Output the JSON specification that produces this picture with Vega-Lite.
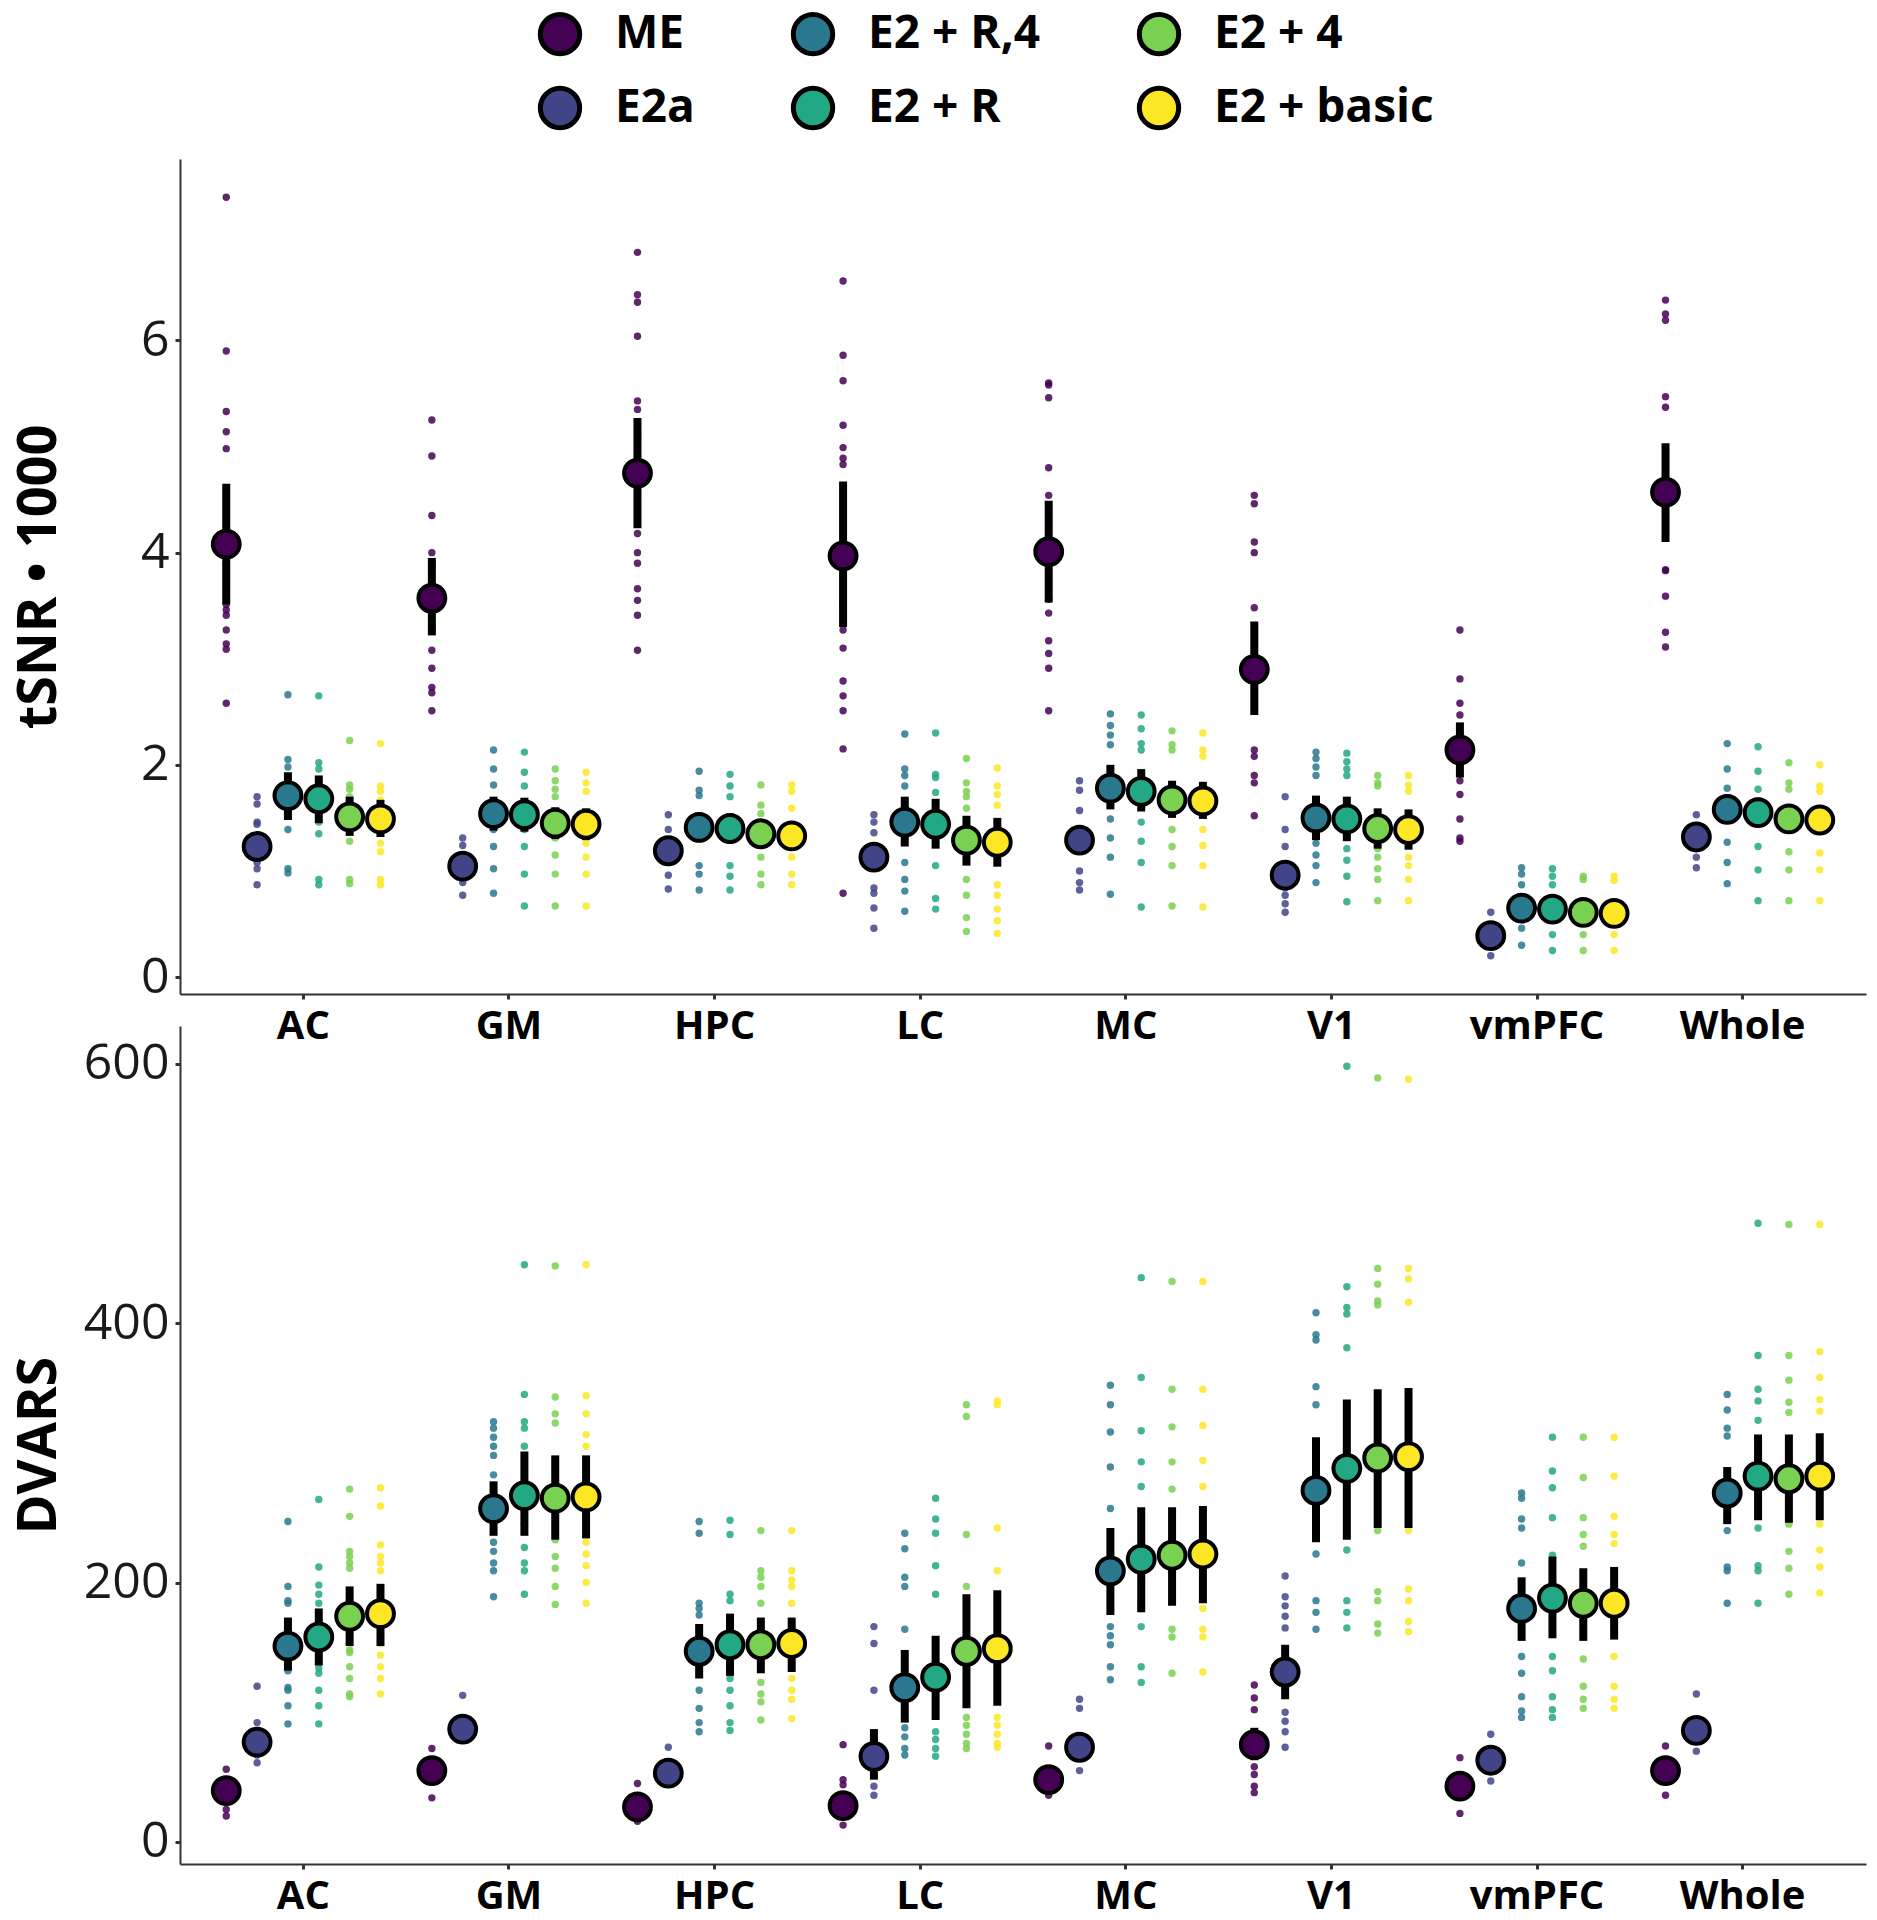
{
"$schema": "https://vega.github.io/schema/vega-lite/v6.json",
"padding": {"left": 12, "top": 11, "right": 8, "bottom": 4},
"datasets": {
"raw": [
{"m":"t","r":"AC","p":"ME","v":7.35},{"m":"t","r":"AC","p":"ME","v":5.90},{"m":"t","r":"AC","p":"ME","v":5.33},{"m":"t","r":"AC","p":"ME","v":5.14},{"m":"t","r":"AC","p":"ME","v":4.98},{"m":"t","r":"AC","p":"ME","v":4.2},{"m":"t","r":"AC","p":"ME","v":3.9},{"m":"t","r":"AC","p":"ME","v":3.51},{"m":"t","r":"AC","p":"ME","v":3.46},{"m":"t","r":"AC","p":"ME","v":3.41},{"m":"t","r":"AC","p":"ME","v":3.27},{"m":"t","r":"AC","p":"ME","v":3.14},{"m":"t","r":"AC","p":"ME","v":3.09},{"m":"t","r":"AC","p":"ME","v":2.58},
{"m":"t","r":"AC","p":"E2a","v":1.70},{"m":"t","r":"AC","p":"E2a","v":1.63},{"m":"t","r":"AC","p":"E2a","v":1.46},{"m":"t","r":"AC","p":"E2a","v":1.44},{"m":"t","r":"AC","p":"E2a","v":1.08},{"m":"t","r":"AC","p":"E2a","v":1.02},{"m":"t","r":"AC","p":"E2a","v":0.87},
{"m":"t","r":"AC","p":"E2 + R,4","v":2.66},{"m":"t","r":"AC","p":"E2 + R,4","v":2.05},{"m":"t","r":"AC","p":"E2 + R,4","v":1.98},{"m":"t","r":"AC","p":"E2 + R,4","v":1.88},{"m":"t","r":"AC","p":"E2 + R,4","v":1.39},{"m":"t","r":"AC","p":"E2 + R,4","v":1.02},{"m":"t","r":"AC","p":"E2 + R,4","v":0.98},
{"m":"t","r":"AC","p":"E2 + R","v":2.65},{"m":"t","r":"AC","p":"E2 + R","v":2.02},{"m":"t","r":"AC","p":"E2 + R","v":1.96},{"m":"t","r":"AC","p":"E2 + R","v":1.85},{"m":"t","r":"AC","p":"E2 + R","v":1.46},{"m":"t","r":"AC","p":"E2 + R","v":1.35},{"m":"t","r":"AC","p":"E2 + R","v":0.92},{"m":"t","r":"AC","p":"E2 + R","v":0.87},
{"m":"t","r":"AC","p":"E2 + 4","v":2.23},{"m":"t","r":"AC","p":"E2 + 4","v":1.81},{"m":"t","r":"AC","p":"E2 + 4","v":1.77},{"m":"t","r":"AC","p":"E2 + 4","v":1.70},{"m":"t","r":"AC","p":"E2 + 4","v":1.39},{"m":"t","r":"AC","p":"E2 + 4","v":1.28},{"m":"t","r":"AC","p":"E2 + 4","v":0.92},{"m":"t","r":"AC","p":"E2 + 4","v":0.88},
{"m":"t","r":"AC","p":"E2 + basic","v":2.20},{"m":"t","r":"AC","p":"E2 + basic","v":1.80},{"m":"t","r":"AC","p":"E2 + basic","v":1.75},{"m":"t","r":"AC","p":"E2 + basic","v":1.67},{"m":"t","r":"AC","p":"E2 + basic","v":1.26},{"m":"t","r":"AC","p":"E2 + basic","v":1.18},{"m":"t","r":"AC","p":"E2 + basic","v":0.92},{"m":"t","r":"AC","p":"E2 + basic","v":0.87},
{"m":"t","r":"GM","p":"ME","v":5.25},{"m":"t","r":"GM","p":"ME","v":4.91},{"m":"t","r":"GM","p":"ME","v":4.35},{"m":"t","r":"GM","p":"ME","v":4.00},{"m":"t","r":"GM","p":"ME","v":3.91},{"m":"t","r":"GM","p":"ME","v":3.30},{"m":"t","r":"GM","p":"ME","v":3.08},{"m":"t","r":"GM","p":"ME","v":2.91},{"m":"t","r":"GM","p":"ME","v":2.73},{"m":"t","r":"GM","p":"ME","v":2.68},{"m":"t","r":"GM","p":"ME","v":2.51},
{"m":"t","r":"GM","p":"E2a","v":1.31},{"m":"t","r":"GM","p":"E2a","v":1.24},{"m":"t","r":"GM","p":"E2a","v":0.89},{"m":"t","r":"GM","p":"E2a","v":0.77},
{"m":"t","r":"GM","p":"E2 + R,4","v":2.14},{"m":"t","r":"GM","p":"E2 + R,4","v":1.96},{"m":"t","r":"GM","p":"E2 + R,4","v":1.81},{"m":"t","r":"GM","p":"E2 + R,4","v":1.39},{"m":"t","r":"GM","p":"E2 + R,4","v":1.23},{"m":"t","r":"GM","p":"E2 + R,4","v":1.02},{"m":"t","r":"GM","p":"E2 + R,4","v":0.79},
{"m":"t","r":"GM","p":"E2 + R","v":2.12},{"m":"t","r":"GM","p":"E2 + R","v":1.93},{"m":"t","r":"GM","p":"E2 + R","v":1.80},{"m":"t","r":"GM","p":"E2 + R","v":1.39},{"m":"t","r":"GM","p":"E2 + R","v":1.23},{"m":"t","r":"GM","p":"E2 + R","v":0.97},{"m":"t","r":"GM","p":"E2 + R","v":0.67},
{"m":"t","r":"GM","p":"E2 + 4","v":1.96},{"m":"t","r":"GM","p":"E2 + 4","v":1.85},{"m":"t","r":"GM","p":"E2 + 4","v":1.77},{"m":"t","r":"GM","p":"E2 + 4","v":1.70},{"m":"t","r":"GM","p":"E2 + 4","v":1.31},{"m":"t","r":"GM","p":"E2 + 4","v":1.15},{"m":"t","r":"GM","p":"E2 + 4","v":0.97},{"m":"t","r":"GM","p":"E2 + 4","v":0.67},
{"m":"t","r":"GM","p":"E2 + basic","v":1.93},{"m":"t","r":"GM","p":"E2 + basic","v":1.83},{"m":"t","r":"GM","p":"E2 + basic","v":1.75},{"m":"t","r":"GM","p":"E2 + basic","v":1.26},{"m":"t","r":"GM","p":"E2 + basic","v":1.13},{"m":"t","r":"GM","p":"E2 + basic","v":0.97},{"m":"t","r":"GM","p":"E2 + basic","v":0.67},
{"m":"t","r":"HPC","p":"ME","v":6.83},{"m":"t","r":"HPC","p":"ME","v":6.43},{"m":"t","r":"HPC","p":"ME","v":6.36},{"m":"t","r":"HPC","p":"ME","v":6.04},{"m":"t","r":"HPC","p":"ME","v":5.43},{"m":"t","r":"HPC","p":"ME","v":5.35},{"m":"t","r":"HPC","p":"ME","v":5.09},{"m":"t","r":"HPC","p":"ME","v":4.18},{"m":"t","r":"HPC","p":"ME","v":4.00},{"m":"t","r":"HPC","p":"ME","v":3.90},{"m":"t","r":"HPC","p":"ME","v":3.66},{"m":"t","r":"HPC","p":"ME","v":3.55},{"m":"t","r":"HPC","p":"ME","v":3.41},{"m":"t","r":"HPC","p":"ME","v":3.08},
{"m":"t","r":"HPC","p":"E2a","v":1.53},{"m":"t","r":"HPC","p":"E2a","v":1.39},{"m":"t","r":"HPC","p":"E2a","v":1.08},{"m":"t","r":"HPC","p":"E2a","v":0.96},{"m":"t","r":"HPC","p":"E2a","v":0.83},
{"m":"t","r":"HPC","p":"E2 + R,4","v":1.94},{"m":"t","r":"HPC","p":"E2 + R,4","v":1.76},{"m":"t","r":"HPC","p":"E2 + R,4","v":1.71},{"m":"t","r":"HPC","p":"E2 + R,4","v":1.05},{"m":"t","r":"HPC","p":"E2 + R,4","v":0.97},{"m":"t","r":"HPC","p":"E2 + R,4","v":0.82},
{"m":"t","r":"HPC","p":"E2 + R","v":1.91},{"m":"t","r":"HPC","p":"E2 + R","v":1.80},{"m":"t","r":"HPC","p":"E2 + R","v":1.70},{"m":"t","r":"HPC","p":"E2 + R","v":1.05},{"m":"t","r":"HPC","p":"E2 + R","v":0.95},{"m":"t","r":"HPC","p":"E2 + R","v":0.82},
{"m":"t","r":"HPC","p":"E2 + 4","v":1.81},{"m":"t","r":"HPC","p":"E2 + 4","v":1.62},{"m":"t","r":"HPC","p":"E2 + 4","v":1.54},{"m":"t","r":"HPC","p":"E2 + 4","v":1.13},{"m":"t","r":"HPC","p":"E2 + 4","v":0.97},{"m":"t","r":"HPC","p":"E2 + 4","v":0.87},
{"m":"t","r":"HPC","p":"E2 + basic","v":1.81},{"m":"t","r":"HPC","p":"E2 + basic","v":1.75},{"m":"t","r":"HPC","p":"E2 + basic","v":1.59},{"m":"t","r":"HPC","p":"E2 + basic","v":1.13},{"m":"t","r":"HPC","p":"E2 + basic","v":0.97},{"m":"t","r":"HPC","p":"E2 + basic","v":0.87},
{"m":"t","r":"LC","p":"ME","v":6.56},{"m":"t","r":"LC","p":"ME","v":5.86},{"m":"t","r":"LC","p":"ME","v":5.62},{"m":"t","r":"LC","p":"ME","v":5.20},{"m":"t","r":"LC","p":"ME","v":4.99},{"m":"t","r":"LC","p":"ME","v":4.89},{"m":"t","r":"LC","p":"ME","v":4.83},{"m":"t","r":"LC","p":"ME","v":3.53},{"m":"t","r":"LC","p":"ME","v":3.27},{"m":"t","r":"LC","p":"ME","v":3.10},{"m":"t","r":"LC","p":"ME","v":2.79},{"m":"t","r":"LC","p":"ME","v":2.65},{"m":"t","r":"LC","p":"ME","v":2.51},{"m":"t","r":"LC","p":"ME","v":2.15},{"m":"t","r":"LC","p":"ME","v":0.79},
{"m":"t","r":"LC","p":"E2a","v":1.53},{"m":"t","r":"LC","p":"E2a","v":1.46},{"m":"t","r":"LC","p":"E2a","v":1.36},{"m":"t","r":"LC","p":"E2a","v":0.84},{"m":"t","r":"LC","p":"E2a","v":0.79},{"m":"t","r":"LC","p":"E2a","v":0.65},{"m":"t","r":"LC","p":"E2a","v":0.46},
{"m":"t","r":"LC","p":"E2 + R,4","v":2.29},{"m":"t","r":"LC","p":"E2 + R,4","v":1.96},{"m":"t","r":"LC","p":"E2 + R,4","v":1.90},{"m":"t","r":"LC","p":"E2 + R,4","v":1.80},{"m":"t","r":"LC","p":"E2 + R,4","v":1.08},{"m":"t","r":"LC","p":"E2 + R,4","v":0.92},{"m":"t","r":"LC","p":"E2 + R,4","v":0.81},{"m":"t","r":"LC","p":"E2 + R,4","v":0.62},
{"m":"t","r":"LC","p":"E2 + R","v":2.30},{"m":"t","r":"LC","p":"E2 + R","v":1.91},{"m":"t","r":"LC","p":"E2 + R","v":1.88},{"m":"t","r":"LC","p":"E2 + R","v":1.74},{"m":"t","r":"LC","p":"E2 + R","v":1.05},{"m":"t","r":"LC","p":"E2 + R","v":0.74},{"m":"t","r":"LC","p":"E2 + R","v":0.64},
{"m":"t","r":"LC","p":"E2 + 4","v":2.06},{"m":"t","r":"LC","p":"E2 + 4","v":1.83},{"m":"t","r":"LC","p":"E2 + 4","v":1.75},{"m":"t","r":"LC","p":"E2 + 4","v":1.70},{"m":"t","r":"LC","p":"E2 + 4","v":1.59},{"m":"t","r":"LC","p":"E2 + 4","v":0.92},{"m":"t","r":"LC","p":"E2 + 4","v":0.77},{"m":"t","r":"LC","p":"E2 + 4","v":0.56},{"m":"t","r":"LC","p":"E2 + 4","v":0.43},
{"m":"t","r":"LC","p":"E2 + basic","v":1.97},{"m":"t","r":"LC","p":"E2 + basic","v":1.80},{"m":"t","r":"LC","p":"E2 + basic","v":1.72},{"m":"t","r":"LC","p":"E2 + basic","v":1.62},{"m":"t","r":"LC","p":"E2 + basic","v":0.87},{"m":"t","r":"LC","p":"E2 + basic","v":0.77},{"m":"t","r":"LC","p":"E2 + basic","v":0.64},{"m":"t","r":"LC","p":"E2 + basic","v":0.53},{"m":"t","r":"LC","p":"E2 + basic","v":0.41},
{"m":"t","r":"MC","p":"ME","v":5.60},{"m":"t","r":"MC","p":"ME","v":5.58},{"m":"t","r":"MC","p":"ME","v":5.46},{"m":"t","r":"MC","p":"ME","v":4.80},{"m":"t","r":"MC","p":"ME","v":4.54},{"m":"t","r":"MC","p":"ME","v":3.56},{"m":"t","r":"MC","p":"ME","v":3.43},{"m":"t","r":"MC","p":"ME","v":3.17},{"m":"t","r":"MC","p":"ME","v":3.05},{"m":"t","r":"MC","p":"ME","v":2.91},{"m":"t","r":"MC","p":"ME","v":2.51},
{"m":"t","r":"MC","p":"E2a","v":1.85},{"m":"t","r":"MC","p":"E2a","v":1.76},{"m":"t","r":"MC","p":"E2a","v":1.57},{"m":"t","r":"MC","p":"E2a","v":1.00},{"m":"t","r":"MC","p":"E2a","v":0.89},{"m":"t","r":"MC","p":"E2a","v":0.82},
{"m":"t","r":"MC","p":"E2 + R,4","v":2.48},{"m":"t","r":"MC","p":"E2 + R,4","v":2.37},{"m":"t","r":"MC","p":"E2 + R,4","v":2.28},{"m":"t","r":"MC","p":"E2 + R,4","v":2.19},{"m":"t","r":"MC","p":"E2 + R,4","v":1.49},{"m":"t","r":"MC","p":"E2 + R,4","v":1.31},{"m":"t","r":"MC","p":"E2 + R,4","v":1.13},{"m":"t","r":"MC","p":"E2 + R,4","v":0.78},
{"m":"t","r":"MC","p":"E2 + R","v":2.47},{"m":"t","r":"MC","p":"E2 + R","v":2.34},{"m":"t","r":"MC","p":"E2 + R","v":2.20},{"m":"t","r":"MC","p":"E2 + R","v":2.14},{"m":"t","r":"MC","p":"E2 + R","v":1.46},{"m":"t","r":"MC","p":"E2 + R","v":1.28},{"m":"t","r":"MC","p":"E2 + R","v":1.08},{"m":"t","r":"MC","p":"E2 + R","v":0.66},
{"m":"t","r":"MC","p":"E2 + 4","v":2.32},{"m":"t","r":"MC","p":"E2 + 4","v":2.19},{"m":"t","r":"MC","p":"E2 + 4","v":2.14},{"m":"t","r":"MC","p":"E2 + 4","v":1.39},{"m":"t","r":"MC","p":"E2 + 4","v":1.23},{"m":"t","r":"MC","p":"E2 + 4","v":1.05},{"m":"t","r":"MC","p":"E2 + 4","v":0.67},
{"m":"t","r":"MC","p":"E2 + basic","v":2.30},{"m":"t","r":"MC","p":"E2 + basic","v":2.14},{"m":"t","r":"MC","p":"E2 + basic","v":2.08},{"m":"t","r":"MC","p":"E2 + basic","v":1.39},{"m":"t","r":"MC","p":"E2 + basic","v":1.24},{"m":"t","r":"MC","p":"E2 + basic","v":1.05},{"m":"t","r":"MC","p":"E2 + basic","v":0.66},
{"m":"t","r":"V1","p":"ME","v":4.54},{"m":"t","r":"V1","p":"ME","v":4.46},{"m":"t","r":"V1","p":"ME","v":4.10},{"m":"t","r":"V1","p":"ME","v":4.00},{"m":"t","r":"V1","p":"ME","v":3.48},{"m":"t","r":"V1","p":"ME","v":2.14},{"m":"t","r":"V1","p":"ME","v":2.08},{"m":"t","r":"V1","p":"ME","v":1.90},{"m":"t","r":"V1","p":"ME","v":1.83},{"m":"t","r":"V1","p":"ME","v":1.52},
{"m":"t","r":"V1","p":"E2a","v":1.70},{"m":"t","r":"V1","p":"E2a","v":1.39},{"m":"t","r":"V1","p":"E2a","v":1.23},{"m":"t","r":"V1","p":"E2a","v":0.84},{"m":"t","r":"V1","p":"E2a","v":0.77},{"m":"t","r":"V1","p":"E2a","v":0.69},{"m":"t","r":"V1","p":"E2a","v":0.61},
{"m":"t","r":"V1","p":"E2 + R,4","v":2.12},{"m":"t","r":"V1","p":"E2 + R,4","v":2.06},{"m":"t","r":"V1","p":"E2 + R,4","v":1.98},{"m":"t","r":"V1","p":"E2 + R,4","v":1.90},{"m":"t","r":"V1","p":"E2 + R,4","v":1.26},{"m":"t","r":"V1","p":"E2 + R,4","v":1.15},{"m":"t","r":"V1","p":"E2 + R,4","v":1.05},{"m":"t","r":"V1","p":"E2 + R,4","v":0.89},
{"m":"t","r":"V1","p":"E2 + R","v":2.11},{"m":"t","r":"V1","p":"E2 + R","v":2.03},{"m":"t","r":"V1","p":"E2 + R","v":1.96},{"m":"t","r":"V1","p":"E2 + R","v":1.90},{"m":"t","r":"V1","p":"E2 + R","v":1.21},{"m":"t","r":"V1","p":"E2 + R","v":1.10},{"m":"t","r":"V1","p":"E2 + R","v":0.95},{"m":"t","r":"V1","p":"E2 + R","v":0.71},
{"m":"t","r":"V1","p":"E2 + 4","v":1.90},{"m":"t","r":"V1","p":"E2 + 4","v":1.83},{"m":"t","r":"V1","p":"E2 + 4","v":1.80},{"m":"t","r":"V1","p":"E2 + 4","v":1.21},{"m":"t","r":"V1","p":"E2 + 4","v":1.13},{"m":"t","r":"V1","p":"E2 + 4","v":1.02},{"m":"t","r":"V1","p":"E2 + 4","v":0.92},{"m":"t","r":"V1","p":"E2 + 4","v":0.72},
{"m":"t","r":"V1","p":"E2 + basic","v":1.90},{"m":"t","r":"V1","p":"E2 + basic","v":1.81},{"m":"t","r":"V1","p":"E2 + basic","v":1.75},{"m":"t","r":"V1","p":"E2 + basic","v":1.13},{"m":"t","r":"V1","p":"E2 + basic","v":1.05},{"m":"t","r":"V1","p":"E2 + basic","v":0.92},{"m":"t","r":"V1","p":"E2 + basic","v":0.72},
{"m":"t","r":"vmPFC","p":"ME","v":3.27},{"m":"t","r":"vmPFC","p":"ME","v":2.81},{"m":"t","r":"vmPFC","p":"ME","v":2.58},{"m":"t","r":"vmPFC","p":"ME","v":2.47},{"m":"t","r":"vmPFC","p":"ME","v":1.85},{"m":"t","r":"vmPFC","p":"ME","v":1.72},{"m":"t","r":"vmPFC","p":"ME","v":1.49},{"m":"t","r":"vmPFC","p":"ME","v":1.31},{"m":"t","r":"vmPFC","p":"ME","v":1.28},
{"m":"t","r":"vmPFC","p":"E2a","v":0.61},{"m":"t","r":"vmPFC","p":"E2a","v":0.20},
{"m":"t","r":"vmPFC","p":"E2 + R,4","v":1.03},{"m":"t","r":"vmPFC","p":"E2 + R,4","v":0.97},{"m":"t","r":"vmPFC","p":"E2 + R,4","v":0.87},{"m":"t","r":"vmPFC","p":"E2 + R,4","v":0.46},{"m":"t","r":"vmPFC","p":"E2 + R,4","v":0.30},
{"m":"t","r":"vmPFC","p":"E2 + R","v":1.02},{"m":"t","r":"vmPFC","p":"E2 + R","v":0.95},{"m":"t","r":"vmPFC","p":"E2 + R","v":0.87},{"m":"t","r":"vmPFC","p":"E2 + R","v":0.40},{"m":"t","r":"vmPFC","p":"E2 + R","v":0.25},
{"m":"t","r":"vmPFC","p":"E2 + 4","v":0.95},{"m":"t","r":"vmPFC","p":"E2 + 4","v":0.92},{"m":"t","r":"vmPFC","p":"E2 + 4","v":0.40},{"m":"t","r":"vmPFC","p":"E2 + 4","v":0.25},
{"m":"t","r":"vmPFC","p":"E2 + basic","v":0.95},{"m":"t","r":"vmPFC","p":"E2 + basic","v":0.91},{"m":"t","r":"vmPFC","p":"E2 + basic","v":0.40},{"m":"t","r":"vmPFC","p":"E2 + basic","v":0.25},
{"m":"t","r":"Whole","p":"ME","v":6.38},{"m":"t","r":"Whole","p":"ME","v":6.25},{"m":"t","r":"Whole","p":"ME","v":6.19},{"m":"t","r":"Whole","p":"ME","v":5.47},{"m":"t","r":"Whole","p":"ME","v":5.37},{"m":"t","r":"Whole","p":"ME","v":3.84},{"m":"t","r":"Whole","p":"ME","v":3.83},{"m":"t","r":"Whole","p":"ME","v":3.59},{"m":"t","r":"Whole","p":"ME","v":3.25},{"m":"t","r":"Whole","p":"ME","v":3.11},
{"m":"t","r":"Whole","p":"E2a","v":1.53},{"m":"t","r":"Whole","p":"E2a","v":1.13},{"m":"t","r":"Whole","p":"E2a","v":1.03},
{"m":"t","r":"Whole","p":"E2 + R,4","v":2.20},{"m":"t","r":"Whole","p":"E2 + R,4","v":1.96},{"m":"t","r":"Whole","p":"E2 + R,4","v":1.78},{"m":"t","r":"Whole","p":"E2 + R,4","v":1.27},{"m":"t","r":"Whole","p":"E2 + R,4","v":1.08},{"m":"t","r":"Whole","p":"E2 + R,4","v":0.88},
{"m":"t","r":"Whole","p":"E2 + R","v":2.17},{"m":"t","r":"Whole","p":"E2 + R","v":1.94},{"m":"t","r":"Whole","p":"E2 + R","v":1.77},{"m":"t","r":"Whole","p":"E2 + R","v":1.23},{"m":"t","r":"Whole","p":"E2 + R","v":1.01},{"m":"t","r":"Whole","p":"E2 + R","v":0.72},
{"m":"t","r":"Whole","p":"E2 + 4","v":2.02},{"m":"t","r":"Whole","p":"E2 + 4","v":1.83},{"m":"t","r":"Whole","p":"E2 + 4","v":1.77},{"m":"t","r":"Whole","p":"E2 + 4","v":1.18},{"m":"t","r":"Whole","p":"E2 + 4","v":1.01},{"m":"t","r":"Whole","p":"E2 + 4","v":0.72},
{"m":"t","r":"Whole","p":"E2 + basic","v":2.00},{"m":"t","r":"Whole","p":"E2 + basic","v":1.80},{"m":"t","r":"Whole","p":"E2 + basic","v":1.75},{"m":"t","r":"Whole","p":"E2 + basic","v":1.17},{"m":"t","r":"Whole","p":"E2 + basic","v":1.01},{"m":"t","r":"Whole","p":"E2 + basic","v":0.72},
{"m":"d","r":"AC","p":"ME","v":56},{"m":"d","r":"AC","p":"ME","v":25},{"m":"d","r":"AC","p":"ME","v":20},
{"m":"d","r":"AC","p":"E2a","v":120},{"m":"d","r":"AC","p":"E2a","v":92},{"m":"d","r":"AC","p":"E2a","v":67},{"m":"d","r":"AC","p":"E2a","v":61},
{"m":"d","r":"AC","p":"E2 + R,4","v":247},{"m":"d","r":"AC","p":"E2 + R,4","v":197},{"m":"d","r":"AC","p":"E2 + R,4","v":186},{"m":"d","r":"AC","p":"E2 + R,4","v":184},{"m":"d","r":"AC","p":"E2 + R,4","v":132},{"m":"d","r":"AC","p":"E2 + R,4","v":119},{"m":"d","r":"AC","p":"E2 + R,4","v":117},{"m":"d","r":"AC","p":"E2 + R,4","v":105},{"m":"d","r":"AC","p":"E2 + R,4","v":91},
{"m":"d","r":"AC","p":"E2 + R","v":264},{"m":"d","r":"AC","p":"E2 + R","v":212},{"m":"d","r":"AC","p":"E2 + R","v":198},{"m":"d","r":"AC","p":"E2 + R","v":191},{"m":"d","r":"AC","p":"E2 + R","v":184},{"m":"d","r":"AC","p":"E2 + R","v":134},{"m":"d","r":"AC","p":"E2 + R","v":130},{"m":"d","r":"AC","p":"E2 + R","v":117},{"m":"d","r":"AC","p":"E2 + R","v":105},{"m":"d","r":"AC","p":"E2 + R","v":91},
{"m":"d","r":"AC","p":"E2 + 4","v":272},{"m":"d","r":"AC","p":"E2 + 4","v":251},{"m":"d","r":"AC","p":"E2 + 4","v":224},{"m":"d","r":"AC","p":"E2 + 4","v":220},{"m":"d","r":"AC","p":"E2 + 4","v":215},{"m":"d","r":"AC","p":"E2 + 4","v":211},{"m":"d","r":"AC","p":"E2 + 4","v":148},{"m":"d","r":"AC","p":"E2 + 4","v":146},{"m":"d","r":"AC","p":"E2 + 4","v":135},{"m":"d","r":"AC","p":"E2 + 4","v":126},{"m":"d","r":"AC","p":"E2 + 4","v":114},{"m":"d","r":"AC","p":"E2 + 4","v":112},
{"m":"d","r":"AC","p":"E2 + basic","v":273},{"m":"d","r":"AC","p":"E2 + basic","v":259},{"m":"d","r":"AC","p":"E2 + basic","v":229},{"m":"d","r":"AC","p":"E2 + basic","v":220},{"m":"d","r":"AC","p":"E2 + basic","v":215},{"m":"d","r":"AC","p":"E2 + basic","v":209},{"m":"d","r":"AC","p":"E2 + basic","v":153},{"m":"d","r":"AC","p":"E2 + basic","v":144},{"m":"d","r":"AC","p":"E2 + basic","v":135},{"m":"d","r":"AC","p":"E2 + basic","v":126},{"m":"d","r":"AC","p":"E2 + basic","v":114},
{"m":"d","r":"GM","p":"ME","v":72},{"m":"d","r":"GM","p":"ME","v":34},
{"m":"d","r":"GM","p":"E2a","v":113},{"m":"d","r":"GM","p":"E2a","v":79},
{"m":"d","r":"GM","p":"E2 + R,4","v":324},{"m":"d","r":"GM","p":"E2 + R,4","v":319},{"m":"d","r":"GM","p":"E2 + R,4","v":312},{"m":"d","r":"GM","p":"E2 + R,4","v":305},{"m":"d","r":"GM","p":"E2 + R,4","v":298},{"m":"d","r":"GM","p":"E2 + R,4","v":283},{"m":"d","r":"GM","p":"E2 + R,4","v":231},{"m":"d","r":"GM","p":"E2 + R,4","v":224},{"m":"d","r":"GM","p":"E2 + R,4","v":215},{"m":"d","r":"GM","p":"E2 + R,4","v":209},{"m":"d","r":"GM","p":"E2 + R,4","v":189},
{"m":"d","r":"GM","p":"E2 + R","v":445},{"m":"d","r":"GM","p":"E2 + R","v":345},{"m":"d","r":"GM","p":"E2 + R","v":324},{"m":"d","r":"GM","p":"E2 + R","v":319},{"m":"d","r":"GM","p":"E2 + R","v":305},{"m":"d","r":"GM","p":"E2 + R","v":245},{"m":"d","r":"GM","p":"E2 + R","v":227},{"m":"d","r":"GM","p":"E2 + R","v":215},{"m":"d","r":"GM","p":"E2 + R","v":209},{"m":"d","r":"GM","p":"E2 + R","v":191},
{"m":"d","r":"GM","p":"E2 + 4","v":444},{"m":"d","r":"GM","p":"E2 + 4","v":343},{"m":"d","r":"GM","p":"E2 + 4","v":330},{"m":"d","r":"GM","p":"E2 + 4","v":323},{"m":"d","r":"GM","p":"E2 + 4","v":292},{"m":"d","r":"GM","p":"E2 + 4","v":233},{"m":"d","r":"GM","p":"E2 + 4","v":220},{"m":"d","r":"GM","p":"E2 + 4","v":211},{"m":"d","r":"GM","p":"E2 + 4","v":197},{"m":"d","r":"GM","p":"E2 + 4","v":183},
{"m":"d","r":"GM","p":"E2 + basic","v":445},{"m":"d","r":"GM","p":"E2 + basic","v":344},{"m":"d","r":"GM","p":"E2 + basic","v":330},{"m":"d","r":"GM","p":"E2 + basic","v":314},{"m":"d","r":"GM","p":"E2 + basic","v":305},{"m":"d","r":"GM","p":"E2 + basic","v":231},{"m":"d","r":"GM","p":"E2 + basic","v":222},{"m":"d","r":"GM","p":"E2 + basic","v":213},{"m":"d","r":"GM","p":"E2 + basic","v":200},{"m":"d","r":"GM","p":"E2 + basic","v":184},
{"m":"d","r":"HPC","p":"ME","v":45},{"m":"d","r":"HPC","p":"ME","v":16},
{"m":"d","r":"HPC","p":"E2a","v":73},
{"m":"d","r":"HPC","p":"E2 + R,4","v":247},{"m":"d","r":"HPC","p":"E2 + R,4","v":238},{"m":"d","r":"HPC","p":"E2 + R,4","v":184},{"m":"d","r":"HPC","p":"E2 + R,4","v":180},{"m":"d","r":"HPC","p":"E2 + R,4","v":175},{"m":"d","r":"HPC","p":"E2 + R,4","v":117},{"m":"d","r":"HPC","p":"E2 + R,4","v":103},{"m":"d","r":"HPC","p":"E2 + R,4","v":92},{"m":"d","r":"HPC","p":"E2 + R,4","v":85},
{"m":"d","r":"HPC","p":"E2 + R","v":248},{"m":"d","r":"HPC","p":"E2 + R","v":237},{"m":"d","r":"HPC","p":"E2 + R","v":191},{"m":"d","r":"HPC","p":"E2 + R","v":186},{"m":"d","r":"HPC","p":"E2 + R","v":126},{"m":"d","r":"HPC","p":"E2 + R","v":117},{"m":"d","r":"HPC","p":"E2 + R","v":105},{"m":"d","r":"HPC","p":"E2 + R","v":92},{"m":"d","r":"HPC","p":"E2 + R","v":86},
{"m":"d","r":"HPC","p":"E2 + 4","v":240},{"m":"d","r":"HPC","p":"E2 + 4","v":209},{"m":"d","r":"HPC","p":"E2 + 4","v":204},{"m":"d","r":"HPC","p":"E2 + 4","v":197},{"m":"d","r":"HPC","p":"E2 + 4","v":184},{"m":"d","r":"HPC","p":"E2 + 4","v":123},{"m":"d","r":"HPC","p":"E2 + 4","v":114},{"m":"d","r":"HPC","p":"E2 + 4","v":108},{"m":"d","r":"HPC","p":"E2 + 4","v":94},
{"m":"d","r":"HPC","p":"E2 + basic","v":240},{"m":"d","r":"HPC","p":"E2 + basic","v":209},{"m":"d","r":"HPC","p":"E2 + basic","v":202},{"m":"d","r":"HPC","p":"E2 + basic","v":197},{"m":"d","r":"HPC","p":"E2 + basic","v":184},{"m":"d","r":"HPC","p":"E2 + basic","v":126},{"m":"d","r":"HPC","p":"E2 + basic","v":117},{"m":"d","r":"HPC","p":"E2 + basic","v":110},{"m":"d","r":"HPC","p":"E2 + basic","v":95},
{"m":"d","r":"LC","p":"ME","v":75},{"m":"d","r":"LC","p":"ME","v":48},{"m":"d","r":"LC","p":"ME","v":44},{"m":"d","r":"LC","p":"ME","v":13},
{"m":"d","r":"LC","p":"E2a","v":166},{"m":"d","r":"LC","p":"E2a","v":153},{"m":"d","r":"LC","p":"E2a","v":117},{"m":"d","r":"LC","p":"E2a","v":43},{"m":"d","r":"LC","p":"E2a","v":36},
{"m":"d","r":"LC","p":"E2 + R,4","v":238},{"m":"d","r":"LC","p":"E2 + R,4","v":226},{"m":"d","r":"LC","p":"E2 + R,4","v":204},{"m":"d","r":"LC","p":"E2 + R,4","v":197},{"m":"d","r":"LC","p":"E2 + R,4","v":164},{"m":"d","r":"LC","p":"E2 + R,4","v":88},{"m":"d","r":"LC","p":"E2 + R,4","v":81},{"m":"d","r":"LC","p":"E2 + R,4","v":72},{"m":"d","r":"LC","p":"E2 + R,4","v":67},
{"m":"d","r":"LC","p":"E2 + R","v":265},{"m":"d","r":"LC","p":"E2 + R","v":249},{"m":"d","r":"LC","p":"E2 + R","v":238},{"m":"d","r":"LC","p":"E2 + R","v":213},{"m":"d","r":"LC","p":"E2 + R","v":191},{"m":"d","r":"LC","p":"E2 + R","v":85},{"m":"d","r":"LC","p":"E2 + R","v":79},{"m":"d","r":"LC","p":"E2 + R","v":72},{"m":"d","r":"LC","p":"E2 + R","v":66},
{"m":"d","r":"LC","p":"E2 + 4","v":337},{"m":"d","r":"LC","p":"E2 + 4","v":328},{"m":"d","r":"LC","p":"E2 + 4","v":237},{"m":"d","r":"LC","p":"E2 + 4","v":197},{"m":"d","r":"LC","p":"E2 + 4","v":96},{"m":"d","r":"LC","p":"E2 + 4","v":90},{"m":"d","r":"LC","p":"E2 + 4","v":83},{"m":"d","r":"LC","p":"E2 + 4","v":76},{"m":"d","r":"LC","p":"E2 + 4","v":72},
{"m":"d","r":"LC","p":"E2 + basic","v":340},{"m":"d","r":"LC","p":"E2 + basic","v":337},{"m":"d","r":"LC","p":"E2 + basic","v":242},{"m":"d","r":"LC","p":"E2 + basic","v":209},{"m":"d","r":"LC","p":"E2 + basic","v":96},{"m":"d","r":"LC","p":"E2 + basic","v":90},{"m":"d","r":"LC","p":"E2 + basic","v":83},{"m":"d","r":"LC","p":"E2 + basic","v":76},{"m":"d","r":"LC","p":"E2 + basic","v":73},
{"m":"d","r":"MC","p":"ME","v":74},{"m":"d","r":"MC","p":"ME","v":36},
{"m":"d","r":"MC","p":"E2a","v":110},{"m":"d","r":"MC","p":"E2a","v":103},{"m":"d","r":"MC","p":"E2a","v":55},
{"m":"d","r":"MC","p":"E2 + R,4","v":352},{"m":"d","r":"MC","p":"E2 + R,4","v":337},{"m":"d","r":"MC","p":"E2 + R,4","v":316},{"m":"d","r":"MC","p":"E2 + R,4","v":289},{"m":"d","r":"MC","p":"E2 + R,4","v":257},{"m":"d","r":"MC","p":"E2 + R,4","v":166},{"m":"d","r":"MC","p":"E2 + R,4","v":159},{"m":"d","r":"MC","p":"E2 + R,4","v":152},{"m":"d","r":"MC","p":"E2 + R,4","v":135},{"m":"d","r":"MC","p":"E2 + R,4","v":125},
{"m":"d","r":"MC","p":"E2 + R","v":435},{"m":"d","r":"MC","p":"E2 + R","v":358},{"m":"d","r":"MC","p":"E2 + R","v":317},{"m":"d","r":"MC","p":"E2 + R","v":293},{"m":"d","r":"MC","p":"E2 + R","v":274},{"m":"d","r":"MC","p":"E2 + R","v":180},{"m":"d","r":"MC","p":"E2 + R","v":166},{"m":"d","r":"MC","p":"E2 + R","v":135},{"m":"d","r":"MC","p":"E2 + R","v":123},
{"m":"d","r":"MC","p":"E2 + 4","v":432},{"m":"d","r":"MC","p":"E2 + 4","v":349},{"m":"d","r":"MC","p":"E2 + 4","v":320},{"m":"d","r":"MC","p":"E2 + 4","v":293},{"m":"d","r":"MC","p":"E2 + 4","v":272},{"m":"d","r":"MC","p":"E2 + 4","v":164},{"m":"d","r":"MC","p":"E2 + 4","v":158},{"m":"d","r":"MC","p":"E2 + 4","v":130},
{"m":"d","r":"MC","p":"E2 + basic","v":432},{"m":"d","r":"MC","p":"E2 + basic","v":349},{"m":"d","r":"MC","p":"E2 + basic","v":321},{"m":"d","r":"MC","p":"E2 + basic","v":294},{"m":"d","r":"MC","p":"E2 + basic","v":274},{"m":"d","r":"MC","p":"E2 + basic","v":180},{"m":"d","r":"MC","p":"E2 + basic","v":164},{"m":"d","r":"MC","p":"E2 + basic","v":158},{"m":"d","r":"MC","p":"E2 + basic","v":131},
{"m":"d","r":"V1","p":"ME","v":121},{"m":"d","r":"V1","p":"ME","v":111},{"m":"d","r":"V1","p":"ME","v":102},{"m":"d","r":"V1","p":"ME","v":58},{"m":"d","r":"V1","p":"ME","v":52},{"m":"d","r":"V1","p":"ME","v":43},{"m":"d","r":"V1","p":"ME","v":38},
{"m":"d","r":"V1","p":"E2a","v":205},{"m":"d","r":"V1","p":"E2a","v":189},{"m":"d","r":"V1","p":"E2a","v":182},{"m":"d","r":"V1","p":"E2a","v":174},{"m":"d","r":"V1","p":"E2a","v":165},{"m":"d","r":"V1","p":"E2a","v":100},{"m":"d","r":"V1","p":"E2a","v":93},{"m":"d","r":"V1","p":"E2a","v":85},{"m":"d","r":"V1","p":"E2a","v":73},
{"m":"d","r":"V1","p":"E2 + R,4","v":408},{"m":"d","r":"V1","p":"E2 + R,4","v":391},{"m":"d","r":"V1","p":"E2 + R,4","v":387},{"m":"d","r":"V1","p":"E2 + R,4","v":351},{"m":"d","r":"V1","p":"E2 + R,4","v":337},{"m":"d","r":"V1","p":"E2 + R,4","v":222},{"m":"d","r":"V1","p":"E2 + R,4","v":186},{"m":"d","r":"V1","p":"E2 + R,4","v":177},{"m":"d","r":"V1","p":"E2 + R,4","v":164},
{"m":"d","r":"V1","p":"E2 + R","v":598},{"m":"d","r":"V1","p":"E2 + R","v":428},{"m":"d","r":"V1","p":"E2 + R","v":412},{"m":"d","r":"V1","p":"E2 + R","v":407},{"m":"d","r":"V1","p":"E2 + R","v":381},{"m":"d","r":"V1","p":"E2 + R","v":225},{"m":"d","r":"V1","p":"E2 + R","v":186},{"m":"d","r":"V1","p":"E2 + R","v":177},{"m":"d","r":"V1","p":"E2 + R","v":165},
{"m":"d","r":"V1","p":"E2 + 4","v":589},{"m":"d","r":"V1","p":"E2 + 4","v":442},{"m":"d","r":"V1","p":"E2 + 4","v":430},{"m":"d","r":"V1","p":"E2 + 4","v":417},{"m":"d","r":"V1","p":"E2 + 4","v":414},{"m":"d","r":"V1","p":"E2 + 4","v":240},{"m":"d","r":"V1","p":"E2 + 4","v":193},{"m":"d","r":"V1","p":"E2 + 4","v":186},{"m":"d","r":"V1","p":"E2 + 4","v":168},{"m":"d","r":"V1","p":"E2 + 4","v":161},
{"m":"d","r":"V1","p":"E2 + basic","v":588},{"m":"d","r":"V1","p":"E2 + basic","v":442},{"m":"d","r":"V1","p":"E2 + basic","v":434},{"m":"d","r":"V1","p":"E2 + basic","v":416},{"m":"d","r":"V1","p":"E2 + basic","v":240},{"m":"d","r":"V1","p":"E2 + basic","v":195},{"m":"d","r":"V1","p":"E2 + basic","v":186},{"m":"d","r":"V1","p":"E2 + basic","v":170},{"m":"d","r":"V1","p":"E2 + basic","v":162},
{"m":"d","r":"vmPFC","p":"ME","v":65},{"m":"d","r":"vmPFC","p":"ME","v":22},
{"m":"d","r":"vmPFC","p":"E2a","v":83},{"m":"d","r":"vmPFC","p":"E2a","v":47},
{"m":"d","r":"vmPFC","p":"E2 + R,4","v":269},{"m":"d","r":"vmPFC","p":"E2 + R,4","v":265},{"m":"d","r":"vmPFC","p":"E2 + R,4","v":249},{"m":"d","r":"vmPFC","p":"E2 + R,4","v":242},{"m":"d","r":"vmPFC","p":"E2 + R,4","v":215},{"m":"d","r":"vmPFC","p":"E2 + R,4","v":143},{"m":"d","r":"vmPFC","p":"E2 + R,4","v":130},{"m":"d","r":"vmPFC","p":"E2 + R,4","v":112},{"m":"d","r":"vmPFC","p":"E2 + R,4","v":101},{"m":"d","r":"vmPFC","p":"E2 + R,4","v":96},
{"m":"d","r":"vmPFC","p":"E2 + R","v":312},{"m":"d","r":"vmPFC","p":"E2 + R","v":286},{"m":"d","r":"vmPFC","p":"E2 + R","v":273},{"m":"d","r":"vmPFC","p":"E2 + R","v":250},{"m":"d","r":"vmPFC","p":"E2 + R","v":221},{"m":"d","r":"vmPFC","p":"E2 + R","v":143},{"m":"d","r":"vmPFC","p":"E2 + R","v":132},{"m":"d","r":"vmPFC","p":"E2 + R","v":112},{"m":"d","r":"vmPFC","p":"E2 + R","v":102},{"m":"d","r":"vmPFC","p":"E2 + R","v":96},
{"m":"d","r":"vmPFC","p":"E2 + 4","v":312},{"m":"d","r":"vmPFC","p":"E2 + 4","v":281},{"m":"d","r":"vmPFC","p":"E2 + 4","v":250},{"m":"d","r":"vmPFC","p":"E2 + 4","v":237},{"m":"d","r":"vmPFC","p":"E2 + 4","v":228},{"m":"d","r":"vmPFC","p":"E2 + 4","v":141},{"m":"d","r":"vmPFC","p":"E2 + 4","v":120},{"m":"d","r":"vmPFC","p":"E2 + 4","v":110},{"m":"d","r":"vmPFC","p":"E2 + 4","v":103},
{"m":"d","r":"vmPFC","p":"E2 + basic","v":312},{"m":"d","r":"vmPFC","p":"E2 + basic","v":282},{"m":"d","r":"vmPFC","p":"E2 + basic","v":251},{"m":"d","r":"vmPFC","p":"E2 + basic","v":237},{"m":"d","r":"vmPFC","p":"E2 + basic","v":230},{"m":"d","r":"vmPFC","p":"E2 + basic","v":143},{"m":"d","r":"vmPFC","p":"E2 + basic","v":120},{"m":"d","r":"vmPFC","p":"E2 + basic","v":110},{"m":"d","r":"vmPFC","p":"E2 + basic","v":103},
{"m":"d","r":"Whole","p":"ME","v":74},{"m":"d","r":"Whole","p":"ME","v":36},
{"m":"d","r":"Whole","p":"E2a","v":114},{"m":"d","r":"Whole","p":"E2a","v":70},
{"m":"d","r":"Whole","p":"E2 + R,4","v":345},{"m":"d","r":"Whole","p":"E2 + R,4","v":333},{"m":"d","r":"Whole","p":"E2 + R,4","v":319},{"m":"d","r":"Whole","p":"E2 + R,4","v":313},{"m":"d","r":"Whole","p":"E2 + R,4","v":240},{"m":"d","r":"Whole","p":"E2 + R,4","v":212},{"m":"d","r":"Whole","p":"E2 + R,4","v":209},{"m":"d","r":"Whole","p":"E2 + R,4","v":184},
{"m":"d","r":"Whole","p":"E2 + R","v":477},{"m":"d","r":"Whole","p":"E2 + R","v":375},{"m":"d","r":"Whole","p":"E2 + R","v":349},{"m":"d","r":"Whole","p":"E2 + R","v":340},{"m":"d","r":"Whole","p":"E2 + R","v":325},{"m":"d","r":"Whole","p":"E2 + R","v":242},{"m":"d","r":"Whole","p":"E2 + R","v":213},{"m":"d","r":"Whole","p":"E2 + R","v":209},{"m":"d","r":"Whole","p":"E2 + R","v":184},
{"m":"d","r":"Whole","p":"E2 + 4","v":476},{"m":"d","r":"Whole","p":"E2 + 4","v":375},{"m":"d","r":"Whole","p":"E2 + 4","v":356},{"m":"d","r":"Whole","p":"E2 + 4","v":339},{"m":"d","r":"Whole","p":"E2 + 4","v":331},{"m":"d","r":"Whole","p":"E2 + 4","v":245},{"m":"d","r":"Whole","p":"E2 + 4","v":224},{"m":"d","r":"Whole","p":"E2 + 4","v":211},{"m":"d","r":"Whole","p":"E2 + 4","v":191},
{"m":"d","r":"Whole","p":"E2 + basic","v":476},{"m":"d","r":"Whole","p":"E2 + basic","v":378},{"m":"d","r":"Whole","p":"E2 + basic","v":358},{"m":"d","r":"Whole","p":"E2 + basic","v":341},{"m":"d","r":"Whole","p":"E2 + basic","v":332},{"m":"d","r":"Whole","p":"E2 + basic","v":245},{"m":"d","r":"Whole","p":"E2 + basic","v":225},{"m":"d","r":"Whole","p":"E2 + basic","v":212},{"m":"d","r":"Whole","p":"E2 + basic","v":192}
],
"sum": [
{"m":"t","r":"AC","p":"ME","mean":4.08,"lo":3.51,"hi":4.65},{"m":"t","r":"AC","p":"E2a","mean":1.23,"lo":1.15,"hi":1.31},{"m":"t","r":"AC","p":"E2 + R,4","mean":1.71,"lo":1.48,"hi":1.93},{"m":"t","r":"AC","p":"E2 + R","mean":1.68,"lo":1.45,"hi":1.90},{"m":"t","r":"AC","p":"E2 + 4","mean":1.51,"lo":1.33,"hi":1.70},{"m":"t","r":"AC","p":"E2 + basic","mean":1.49,"lo":1.32,"hi":1.67},
{"m":"t","r":"GM","p":"ME","mean":3.57,"lo":3.22,"hi":3.95},{"m":"t","r":"GM","p":"E2a","mean":1.045,"lo":0.97,"hi":1.12},{"m":"t","r":"GM","p":"E2 + R,4","mean":1.54,"lo":1.38,"hi":1.70},{"m":"t","r":"GM","p":"E2 + R","mean":1.53,"lo":1.37,"hi":1.69},{"m":"t","r":"GM","p":"E2 + 4","mean":1.45,"lo":1.30,"hi":1.60},{"m":"t","r":"GM","p":"E2 + basic","mean":1.44,"lo":1.29,"hi":1.59},
{"m":"t","r":"HPC","p":"ME","mean":4.75,"lo":4.23,"hi":5.27},{"m":"t","r":"HPC","p":"E2a","mean":1.19,"lo":1.10,"hi":1.28},{"m":"t","r":"HPC","p":"E2 + R,4","mean":1.41,"lo":1.27,"hi":1.55},{"m":"t","r":"HPC","p":"E2 + R","mean":1.40,"lo":1.26,"hi":1.54},{"m":"t","r":"HPC","p":"E2 + 4","mean":1.35,"lo":1.22,"hi":1.48},{"m":"t","r":"HPC","p":"E2 + basic","mean":1.33,"lo":1.20,"hi":1.46},
{"m":"t","r":"LC","p":"ME","mean":3.97,"lo":3.30,"hi":4.67},{"m":"t","r":"LC","p":"E2a","mean":1.13,"lo":1.02,"hi":1.24},{"m":"t","r":"LC","p":"E2 + R,4","mean":1.46,"lo":1.23,"hi":1.70},{"m":"t","r":"LC","p":"E2 + R","mean":1.44,"lo":1.21,"hi":1.68},{"m":"t","r":"LC","p":"E2 + 4","mean":1.29,"lo":1.05,"hi":1.52},{"m":"t","r":"LC","p":"E2 + basic","mean":1.27,"lo":1.04,"hi":1.50},
{"m":"t","r":"MC","p":"ME","mean":4.01,"lo":3.53,"hi":4.49},{"m":"t","r":"MC","p":"E2a","mean":1.29,"lo":1.18,"hi":1.40},{"m":"t","r":"MC","p":"E2 + R,4","mean":1.78,"lo":1.58,"hi":2.00},{"m":"t","r":"MC","p":"E2 + R","mean":1.75,"lo":1.56,"hi":1.96},{"m":"t","r":"MC","p":"E2 + 4","mean":1.67,"lo":1.50,"hi":1.85},{"m":"t","r":"MC","p":"E2 + basic","mean":1.66,"lo":1.49,"hi":1.84},
{"m":"t","r":"V1","p":"ME","mean":2.90,"lo":2.47,"hi":3.35},{"m":"t","r":"V1","p":"E2a","mean":0.96,"lo":0.88,"hi":1.05},{"m":"t","r":"V1","p":"E2 + R,4","mean":1.50,"lo":1.29,"hi":1.71},{"m":"t","r":"V1","p":"E2 + R","mean":1.49,"lo":1.28,"hi":1.70},{"m":"t","r":"V1","p":"E2 + 4","mean":1.40,"lo":1.21,"hi":1.59},{"m":"t","r":"V1","p":"E2 + basic","mean":1.39,"lo":1.20,"hi":1.58},
{"m":"t","r":"vmPFC","p":"ME","mean":2.14,"lo":1.88,"hi":2.40},{"m":"t","r":"vmPFC","p":"E2a","mean":0.39,"lo":0.33,"hi":0.45},{"m":"t","r":"vmPFC","p":"E2 + R,4","mean":0.65,"lo":0.56,"hi":0.75},{"m":"t","r":"vmPFC","p":"E2 + R","mean":0.64,"lo":0.55,"hi":0.74},{"m":"t","r":"vmPFC","p":"E2 + 4","mean":0.61,"lo":0.53,"hi":0.70},{"m":"t","r":"vmPFC","p":"E2 + basic","mean":0.60,"lo":0.52,"hi":0.69},
{"m":"t","r":"Whole","p":"ME","mean":4.57,"lo":4.10,"hi":5.03},{"m":"t","r":"Whole","p":"E2a","mean":1.32,"lo":1.23,"hi":1.41},{"m":"t","r":"Whole","p":"E2 + R,4","mean":1.58,"lo":1.45,"hi":1.72},{"m":"t","r":"Whole","p":"E2 + R","mean":1.55,"lo":1.42,"hi":1.69},{"m":"t","r":"Whole","p":"E2 + 4","mean":1.49,"lo":1.36,"hi":1.62},{"m":"t","r":"Whole","p":"E2 + basic","mean":1.48,"lo":1.35,"hi":1.61},
{"m":"d","r":"AC","p":"ME","mean":39.5,"lo":32,"hi":47},{"m":"d","r":"AC","p":"E2a","mean":77,"lo":68,"hi":86},{"m":"d","r":"AC","p":"E2 + R,4","mean":151,"lo":132,"hi":173},{"m":"d","r":"AC","p":"E2 + R","mean":158,"lo":136,"hi":180},{"m":"d","r":"AC","p":"E2 + 4","mean":174,"lo":151,"hi":197},{"m":"d","r":"AC","p":"E2 + basic","mean":176,"lo":151,"hi":199},
{"m":"d","r":"GM","p":"ME","mean":55,"lo":47,"hi":63},{"m":"d","r":"GM","p":"E2a","mean":87,"lo":80,"hi":95},{"m":"d","r":"GM","p":"E2 + R,4","mean":257,"lo":236,"hi":278},{"m":"d","r":"GM","p":"E2 + R","mean":267,"lo":236,"hi":301},{"m":"d","r":"GM","p":"E2 + 4","mean":265,"lo":233,"hi":298},{"m":"d","r":"GM","p":"E2 + basic","mean":266,"lo":234,"hi":298},
{"m":"d","r":"HPC","p":"ME","mean":27,"lo":21,"hi":33},{"m":"d","r":"HPC","p":"E2a","mean":53,"lo":47,"hi":59},{"m":"d","r":"HPC","p":"E2 + R,4","mean":147,"lo":126,"hi":168},{"m":"d","r":"HPC","p":"E2 + R","mean":152,"lo":128,"hi":176},{"m":"d","r":"HPC","p":"E2 + 4","mean":152,"lo":130,"hi":173},{"m":"d","r":"HPC","p":"E2 + basic","mean":153,"lo":131,"hi":173},
{"m":"d","r":"LC","p":"ME","mean":28,"lo":21,"hi":35},{"m":"d","r":"LC","p":"E2a","mean":66,"lo":48,"hi":87},{"m":"d","r":"LC","p":"E2 + R,4","mean":119,"lo":92,"hi":148},{"m":"d","r":"LC","p":"E2 + R","mean":127,"lo":94,"hi":159},{"m":"d","r":"LC","p":"E2 + 4","mean":147,"lo":103,"hi":191},{"m":"d","r":"LC","p":"E2 + basic","mean":149,"lo":105,"hi":194},
{"m":"d","r":"MC","p":"ME","mean":48,"lo":41,"hi":55},{"m":"d","r":"MC","p":"E2a","mean":73,"lo":66,"hi":80},{"m":"d","r":"MC","p":"E2 + R,4","mean":209,"lo":175,"hi":242},{"m":"d","r":"MC","p":"E2 + R","mean":218,"lo":177,"hi":258},{"m":"d","r":"MC","p":"E2 + 4","mean":221,"lo":182,"hi":258},{"m":"d","r":"MC","p":"E2 + basic","mean":222,"lo":184,"hi":259},
{"m":"d","r":"V1","p":"ME","mean":75,"lo":63,"hi":88},{"m":"d","r":"V1","p":"E2a","mean":131,"lo":110,"hi":152},{"m":"d","r":"V1","p":"E2 + R,4","mean":271,"lo":231,"hi":312},{"m":"d","r":"V1","p":"E2 + R","mean":288,"lo":233,"hi":341},{"m":"d","r":"V1","p":"E2 + 4","mean":296,"lo":242,"hi":349},{"m":"d","r":"V1","p":"E2 + basic","mean":297,"lo":242,"hi":350},
{"m":"d","r":"vmPFC","p":"ME","mean":43,"lo":36,"hi":50},{"m":"d","r":"vmPFC","p":"E2a","mean":63,"lo":56,"hi":70},{"m":"d","r":"vmPFC","p":"E2 + R,4","mean":180,"lo":155,"hi":204},{"m":"d","r":"vmPFC","p":"E2 + R","mean":188,"lo":157,"hi":220},{"m":"d","r":"vmPFC","p":"E2 + 4","mean":184,"lo":155,"hi":211},{"m":"d","r":"vmPFC","p":"E2 + basic","mean":184,"lo":156,"hi":212},
{"m":"d","r":"Whole","p":"ME","mean":55,"lo":47,"hi":63},{"m":"d","r":"Whole","p":"E2a","mean":86,"lo":78,"hi":94},{"m":"d","r":"Whole","p":"E2 + R,4","mean":269,"lo":245,"hi":289},{"m":"d","r":"Whole","p":"E2 + R","mean":282,"lo":248,"hi":314},{"m":"d","r":"Whole","p":"E2 + 4","mean":280,"lo":246,"hi":314},{"m":"d","r":"Whole","p":"E2 + basic","mean":282,"lo":248,"hi":315}
]
},
"config": {
"view": {"stroke": null},
"axis": {"grid": false, "domainColor": "#333333", "domainWidth": 2, "tickColor": "#333333", "tickWidth": 3, "tickSize": 5},
"legend": {"orient": "none"}
},
"bounds": "flush",
"spacing": 32,
"resolve": {"scale": {"color": "shared", "xOffset": "shared"}},
"vconcat": [
{
"width": 1686, "height": 835,
"layer": [
{"data": {"name": "raw"}, "transform": [{"filter": "datum.m == 't'"}],
 "mark": {"type": "circle", "size": 55, "opacity": 0.85},
 "encoding": {
  "x": {"field": "r", "type": "nominal", "sort": ["AC","GM","HPC","LC","MC","V1","vmPFC","Whole"], "scale": {"type": "band", "paddingInner": 0, "paddingOuter": 0.1},
    "axis": {"title": null, "labelAngle": 0, "labelFont": "Open Sans", "labelFontSize": 40, "labelFontWeight": "bold", "labelColor": "black", "labelPadding": 7}},
  "xOffset": {"field": "p", "type": "nominal", "scale": {"domain": ["ME","E2a","E2 + R,4","E2 + R","E2 + 4","E2 + basic"], "paddingInner": 0, "paddingOuter": 0.333}},
  "y": {"field": "v", "type": "quantitative", "scale": {"domain": [-0.16, 7.71], "nice": false, "zero": false},
    "axis": {"values": [0,2,4,6], "format": "d", "title": "tSNR • 1000", "titleFont": "Open Sans", "titleFontSize": 54, "titleFontWeight": "bold", "titleColor": "black", "titlePadding": 14, "labelFont": "Open Sans", "labelFontSize": 50, "labelColor": "#1a1a1a", "labelPadding": 6, "minExtent": 100}},
  "color": {"field": "p", "type": "nominal", "scale": {"domain": ["ME","E2a","E2 + R,4","E2 + R","E2 + 4","E2 + basic"], "range": ["#440154","#414487","#2A788E","#22A884","#7AD151","#FDE725"]},
    "legend": {"title": null, "values": ["ME","E2a","E2 + R,4","E2 + R","E2 + 4","E2 + basic"], "columns": 3, "gridAlign": "each", "columnPadding": 88, "rowPadding": 14, "legendX": 357, "legendY": -148,
      "symbolType": "circle", "symbolSize": 1550, "symbolStrokeWidth": 5, "symbolStrokeColor": "black", "symbolOpacity": 1, "labelFont": "Open Sans", "labelFontSize": 46, "labelFontWeight": "bold", "labelColor": "black", "labelOffset": 32, "labelLimit": 500,
      "encode": {"symbols": {"update": {"stroke": {"value": "black"}, "strokeWidth": {"value": 5}, "opacity": {"value": 1}}}}}}
 }},
{"data": {"name": "sum"}, "transform": [{"filter": "datum.m == 't'"}],
 "mark": {"type": "rule", "strokeWidth": 8, "color": "black"},
 "encoding": {
  "x": {"field": "r", "type": "nominal", "sort": ["AC","GM","HPC","LC","MC","V1","vmPFC","Whole"]},
  "xOffset": {"field": "p", "type": "nominal"},
  "y": {"field": "lo", "type": "quantitative"},
  "y2": {"field": "hi"}
 }},
{"data": {"name": "sum"}, "transform": [{"filter": "datum.m == 't'"}],
 "mark": {"type": "circle", "size": 720, "opacity": 1, "stroke": "black", "strokeWidth": 4},
 "encoding": {
  "x": {"field": "r", "type": "nominal", "sort": ["AC","GM","HPC","LC","MC","V1","vmPFC","Whole"]},
  "xOffset": {"field": "p", "type": "nominal"},
  "y": {"field": "mean", "type": "quantitative"},
  "color": {"field": "p", "type": "nominal"}
 }}
]
},
{
"width": 1686, "height": 838,
"layer": [
{"data": {"name": "raw"}, "transform": [{"filter": "datum.m == 'd'"}],
 "mark": {"type": "circle", "size": 55, "opacity": 0.85},
 "encoding": {
  "x": {"field": "r", "type": "nominal", "sort": ["AC","GM","HPC","LC","MC","V1","vmPFC","Whole"], "scale": {"type": "band", "paddingInner": 0, "paddingOuter": 0.1},
    "axis": {"title": null, "labelAngle": 0, "labelFont": "Open Sans", "labelFontSize": 40, "labelFontWeight": "bold", "labelColor": "black", "labelPadding": 7}},
  "xOffset": {"field": "p", "type": "nominal", "scale": {"domain": ["ME","E2a","E2 + R,4","E2 + R","E2 + 4","E2 + basic"], "paddingInner": 0, "paddingOuter": 0.333}},
  "y": {"field": "v", "type": "quantitative", "scale": {"domain": [-17, 629], "nice": false, "zero": false},
    "axis": {"values": [0,200,400,600], "format": "d", "title": "DVARS", "titleFont": "Open Sans", "titleFontSize": 54, "titleFontWeight": "bold", "titleColor": "black", "titlePadding": 14, "labelFont": "Open Sans", "labelFontSize": 50, "labelColor": "#1a1a1a", "labelPadding": 6, "minExtent": 100}},
  "color": {"field": "p", "type": "nominal"}
 }},
{"data": {"name": "sum"}, "transform": [{"filter": "datum.m == 'd'"}],
 "mark": {"type": "rule", "strokeWidth": 8, "color": "black"},
 "encoding": {
  "x": {"field": "r", "type": "nominal", "sort": ["AC","GM","HPC","LC","MC","V1","vmPFC","Whole"]},
  "xOffset": {"field": "p", "type": "nominal"},
  "y": {"field": "lo", "type": "quantitative"},
  "y2": {"field": "hi"}
 }},
{"data": {"name": "sum"}, "transform": [{"filter": "datum.m == 'd'"}],
 "mark": {"type": "circle", "size": 720, "opacity": 1, "stroke": "black", "strokeWidth": 4},
 "encoding": {
  "x": {"field": "r", "type": "nominal", "sort": ["AC","GM","HPC","LC","MC","V1","vmPFC","Whole"]},
  "xOffset": {"field": "p", "type": "nominal"},
  "y": {"field": "mean", "type": "quantitative"},
  "color": {"field": "p", "type": "nominal"}
 }}
]
}
]
}
